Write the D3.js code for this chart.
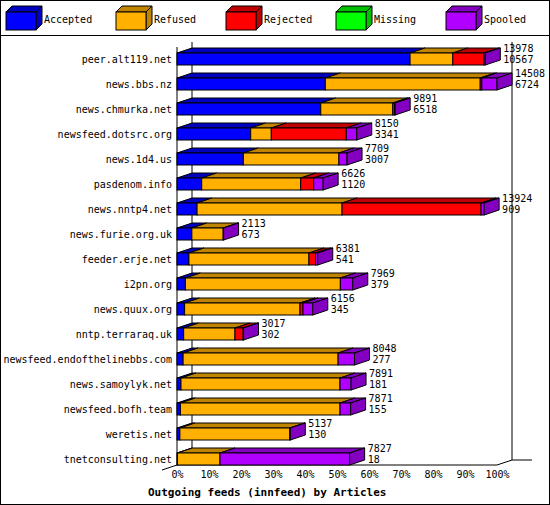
<!DOCTYPE html>
<html><head><meta charset="utf-8">
<script src="https://cdn.jsdelivr.net/npm/d3@7"></script>
<style>body{margin:0;background:#fff}text{font-family:"DejaVu Sans Mono",monospace;font-size:10px}</style>
</head><body><svg id="c" width="550" height="505"></svg>
<script>
const hosts = ["peer.alt119.net","news.bbs.nz","news.chmurka.net","newsfeed.dotsrc.org","news.1d4.us","pasdenom.info","news.nntp4.net","news.furie.org.uk","feeder.erje.net","i2pn.org","news.quux.org","nntp.terraraq.uk","newsfeed.endofthelinebbs.com","news.samoylyk.net","newsfeed.bofh.team","weretis.net","tnetconsulting.net"]
const accepted = [10567,6724,6518,3341,3007,1120,909,673,541,379,345,302,277,181,155,130,18]
const refused  = [1936,7023,3264,934,4334,4488,6574,1420,5440,7027,5232,2326,7027,7209,7236,4987,1931]
const rejected = [1419,73,80,3400,0,589,6302,0,300,0,136,370,0,0,0,0,0]
const missing  = [0,0,0,0,0,0,0,0,0,0,0,0,0,0,0,0,0]
const spooled  = [56,688,29,475,368,429,139,20,100,563,443,19,744,501,480,20,5878]
const totals   = [13978,14508,9891,8150,7709,6626,13924,2113,6381,7969,6156,3017,8048,7891,7871,5137,7827]
const seriesNames = ["Accepted","Refused","Rejected","Missing","Spooled"]
const colors = ["#0000ff","#ffb000","#ff0000","#00ff00","#b000ff"]
const ticks = [0,10,20,30,40,50,60,70,80,90,100]

const svg = d3.select("#c")
const dx = 15, dy = 5, bh = 12
const maxT = d3.max(totals)
const x = d3.scaleLinear().domain([0, 100]).range([177, 497])
const y = d3.scaleBand().domain(hosts).range([46, 471]).paddingInner(0)
const dark = c => d3.color(c).darker(0.8)

svg.append("rect").attr("x",0.5).attr("y",0.5).attr("width",549).attr("height",504).attr("fill","none").attr("stroke","#000")
svg.append("line").attr("x1",0).attr("x2",550).attr("y1",35.5).attr("y2",35.5).attr("stroke","#000")

// legend
seriesNames.forEach((n, i) => {
    const lx = 6 + i * 110, ly = 12
    const g = svg.append("g")
    g.append("polygon").attr("points", `${lx},${ly} ${lx+6},${ly-6} ${lx+36},${ly-6} ${lx+30},${ly}`).attr("fill", dark(colors[i])).attr("stroke","#000")
    g.append("polygon").attr("points", `${lx+30},${ly} ${lx+36},${ly-6} ${lx+36},${ly+12} ${lx+30},${ly+18}`).attr("fill", dark(colors[i])).attr("stroke","#000")
    g.append("rect").attr("x",lx).attr("y",ly).attr("width",30).attr("height",18).attr("fill",colors[i]).attr("stroke","#000")
    g.append("text").attr("x", lx + 38).attr("y", ly + 11).text(n)
})

// back wall / floor
const bx0 = x(0) + dx, bx1 = x(100) + dx, wallTop = 42, floorY = 465
svg.append("line").attr("x1",bx0).attr("x2",bx0).attr("y1",wallTop).attr("y2",floorY-dy).attr("stroke","#000")
svg.append("line").attr("x1",bx1).attr("x2",bx1).attr("y1",wallTop).attr("y2",floorY-dy).attr("stroke","#000")
svg.append("line").attr("x1",bx1).attr("x2",532).attr("y1",floorY-dy).attr("y2",floorY-dy).attr("stroke","#000")
svg.append("line").attr("x1",x(0)).attr("x2",x(100)).attr("y1",floorY).attr("y2",floorY).attr("stroke","#000")
svg.append("line").attr("x1",x(100)).attr("x2",bx1).attr("y1",floorY).attr("y2",floorY-dy).attr("stroke","#000")
svg.append("line").attr("x1",162).attr("x2",x(0)).attr("y1",floorY+5).attr("y2",floorY).attr("stroke","#000")
svg.append("line").attr("x1",x(0)).attr("x2",x(0)).attr("y1",wallTop+5).attr("y2",floorY).attr("stroke","#000")

svg.append("g").attr("transform",`translate(0,${floorY})`)
    .call(d3.axisBottom(x).tickValues(ticks).tickFormat(d => d + "%").tickSize(0).tickPadding(6))
    .call(g => g.select(".domain").remove())
    .selectAll("text").attr("fill","#000").style("font-size","10px")

svg.append("text").attr("x",148).attr("y",496).attr("font-weight","bold").style("font-size","11px").text("Outgoing feeds (innfeed) by Articles")

// bars
const series = [accepted, refused, rejected, missing, spooled]
hosts.forEach((h, r) => {
    const y0 = y(h) + 7
    let acc = 0
    const segs = []
    series.forEach((s, k) => {
        if (s[r] > 0) { segs.push({ a: acc, b: acc + s[r], k }); acc += s[r] }
    })
    const px = v => x(v / maxT * 100)
    const g = svg.append("g")
    segs.forEach(sg => {
        const xa = px(sg.a), xb = px(sg.b)
        g.append("polygon").attr("points", `${xa},${y0} ${xa+dx},${y0-dy} ${xb+dx},${y0-dy} ${xb},${y0}`)
            .attr("fill", dark(colors[sg.k])).attr("stroke","#000")
        g.append("rect").attr("x",xa).attr("y",y0).attr("width",xb-xa).attr("height",bh)
            .attr("fill", colors[sg.k]).attr("stroke","#000")
    })
    const last = segs[segs.length - 1], xe = px(last.b)
    g.append("polygon").attr("points", `${xe},${y0} ${xe+dx},${y0-dy} ${xe+dx},${y0+bh-dy} ${xe},${y0+bh}`)
        .attr("fill", dark(colors[last.k])).attr("stroke","#000")
    svg.append("text").attr("x",172).attr("y",y0+10).attr("text-anchor","end").text(h)
    svg.append("text").attr("x",xe+dx+3).attr("y",y0-1).text(totals[r])
    svg.append("text").attr("x",xe+dx+3).attr("y",y0+10).text(accepted[r])
})
</script></body></html>
